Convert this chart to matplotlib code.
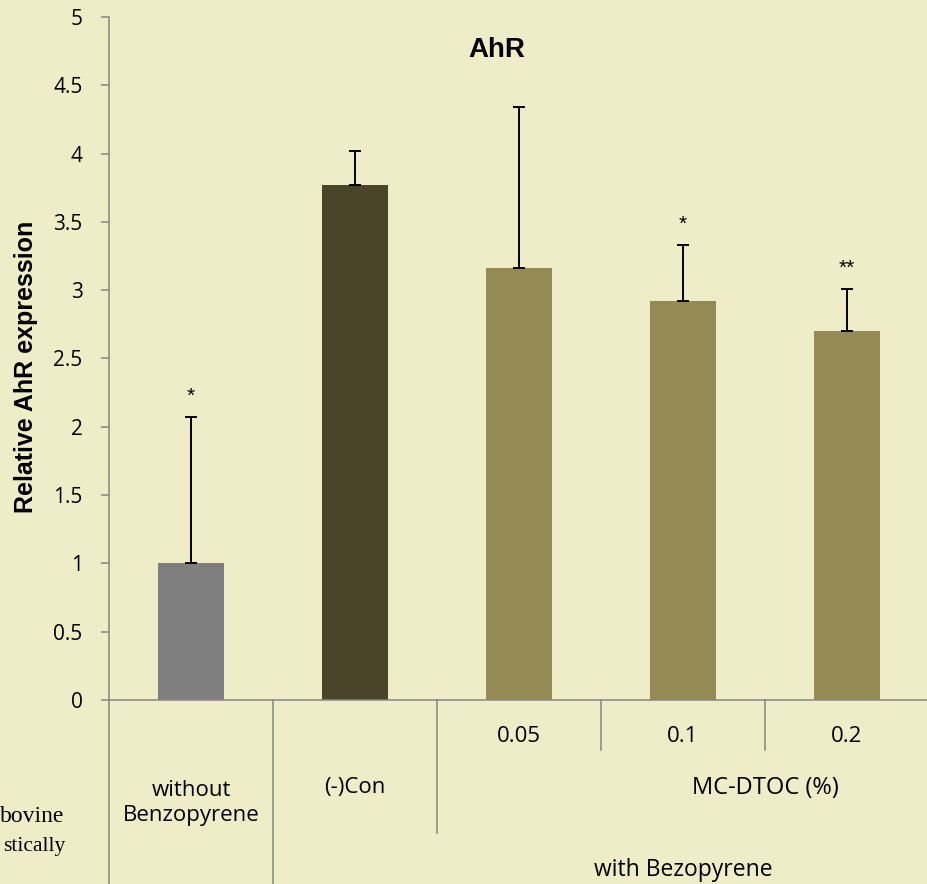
import matplotlib.pyplot as plt
import numpy as np

# data
groups = ["without\nBenzopyrene", "(-)Con", "0.05", "0.1", "0.2"]
means = [1.00, 3.77, 3.16, 2.92, 2.70]
errs = [1.07, 0.25, 1.18, 0.41, 0.31]
stars = ["*", "", "", "*", "**"]
colors = ["#7f7f7f", "#4a442a", "#948a54", "#948a54", "#948a54"]
yticks = [0, 0.5, 1, 1.5, 2, 2.5, 3, 3.5, 4, 4.5, 5]

bg = "#efecc8"
grey = "#868686"
sans = ["Open Sans", "DejaVu Sans"]

W, H = 928, 884
fig = plt.figure(figsize=(W / 100, H / 100), dpi=100, facecolor=bg)
# axes: y=0 at 700px, y=5 at 17px, x from 109px to 929px
ax = fig.add_axes([109 / W, 1 - 700 / H, 820 / W, 683 / H])
ax.set_facecolor(bg)


def ay(py):
    # pixel row below the axes -> axes fraction
    return (700 - py) / 683.0


x = np.arange(len(means))
ax.bar(x, means, width=0.4, color=colors, zorder=2)
ax.errorbar(x, means, yerr=[np.zeros(len(errs)), errs], fmt="none",
            ecolor="black", elinewidth=1.4, capsize=4.3, capthick=1.4, zorder=3)
for xi, m, e, s in zip(x, means, errs, stars):
    if s:
        ax.annotate(s, (xi, m + e), xytext=(0, 15), textcoords="offset points",
                    ha="center", va="center", fontsize=15,
                    family=["Liberation Sans"])

ax.set_xlim(-0.5, 4.5)
ax.set_ylim(0, 5)
ax.set_yticks(yticks)
ax.set_yticklabels(["%g" % t for t in yticks], family=sans, fontsize=15)
ax.tick_params(axis="y", direction="out", length=6, width=1.1, color=grey, pad=13)
ax.set_xticks([])
for side in ["top", "right"]:
    ax.spines[side].set_visible(False)
for side in ["left", "bottom"]:
    ax.spines[side].set_color(grey)
    ax.spines[side].set_linewidth(1.1)

fig.text(26 / W, 1 - 367 / H, "Relative AhR expression", rotation=90,
         ha="center", va="center", family=["Liberation Sans"],
         fontweight="bold", fontsize=18)

# multi level category axis
tr = ax.get_xaxis_transform()
line_kw = dict(color=grey, lw=1.1, transform=tr, clip_on=False)
ax.plot([-0.5, -0.5], [0, ay(884)], **line_kw)
ax.plot([0.5, 0.5], [0, ay(884)], **line_kw)
ax.plot([1.5, 1.5], [0, ay(833)], **line_kw)
for b in [2.5, 3.5, 4.5]:
    ax.plot([b, b], [0, ay(750)], **line_kw)

for i in [2, 3, 4]:
    ax.text(x[i], ay(736), groups[i], transform=tr, ha="center", va="center",
            family=sans, fontsize=16)
ax.text(0, ay(803), groups[0], transform=tr, ha="center", va="center",
        family=sans, fontsize=16, linespacing=1.2)
ax.text(1, ay(788), groups[1], transform=tr, ha="center", va="center",
        family=sans, fontsize=16)
ax.text(3.5, ay(788), "MC-DTOC (%)", transform=tr, ha="center", va="center",
        family=sans, fontsize=17)
ax.text(3.0, ay(870), "with Bezopyrene", transform=tr, ha="center", va="center",
        family=sans, fontsize=16.5)

fig.text(497 / W, 1 - 50 / H, "AhR", ha="center", va="center",
         family=["Liberation Sans"], fontweight="bold", fontsize=20)

# text cut off at the left edge of the slide
fig.text(64 / W, 1 - 817 / H, "bovine", ha="right", va="center",
         family=["Liberation Serif"], fontsize=17)
fig.text(65 / W, 1 - 846 / H, "stically", ha="right", va="center",
         family=["Liberation Serif"], fontsize=15.5)

fig.savefig("out.png", dpi=100, facecolor=bg)
